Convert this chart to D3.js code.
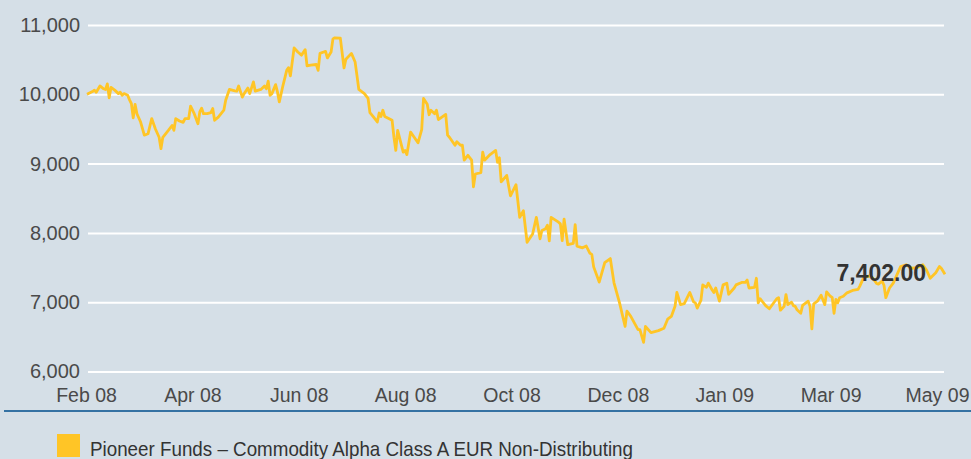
<!DOCTYPE html>
<html>
<head>
<meta charset="utf-8">
<script src="https://cdn.jsdelivr.net/npm/d3@7"></script>
<style>
  body { margin: 0; background: #d5dfe7; }
  svg { display: block; }
</style>
</head>
<body>
<div id="view"></div>
<script>
'use strict';

// x tick labels (evenly spaced along the axis)
const tickLabels = ['Feb 08', 'Apr 08', 'Jun 08', 'Aug 08', 'Oct 08', 'Dec 08', 'Jan 09', 'Mar 09', 'May 09'];
const yTicks = [6000, 7000, 8000, 9000, 10000, 11000];

const seriesName = 'Pioneer Funds \u2013 Commodity Alpha Class A EUR Non-Distributing';
const lastValue = 7402.00;

// day offset from start of the period
const dayOffsets = [
  0, 3, 4, 5, 7, 9, 10, 11, 12, 13, 15, 17, 18, 19, 20, 22, 23, 24, 25, 26,
  27, 29, 31, 33, 35, 37, 39, 40, 41, 44, 46, 47, 48, 50, 52, 53, 55, 56, 58, 60,
  61, 62, 63, 65, 67, 68, 69, 71, 74, 75, 77, 80, 81, 82, 84, 85, 87, 88, 90, 91,
  94, 96, 97, 98, 99, 100, 102, 103, 104, 106, 108, 109, 110, 112, 114, 116, 118, 119, 121, 124,
  125, 126, 128, 129, 130, 132, 133, 134, 137, 139, 140, 143, 145, 146, 147, 150, 152, 153, 155, 157,
  158, 159, 160, 161, 165, 166, 167, 168, 171, 172, 173, 175, 179, 181, 182, 184, 185, 186, 188, 189,
  190, 194, 195, 196, 199, 200, 202, 203, 204, 206, 208, 209, 210, 213, 214, 215, 218, 221, 222, 223,
  224, 227, 229, 232, 234, 236, 238, 241, 243, 245, 246, 248, 249, 250, 251, 255, 256, 257, 258, 260,
  263, 264, 265, 268, 270, 272, 273, 274, 277, 280, 283, 285, 288, 291, 292, 294, 298, 299, 301, 302,
  305, 309, 312, 314, 316, 318, 319, 321, 323, 326, 328, 329, 330, 332, 333, 335, 336, 338, 339, 340,
  342, 344, 346, 347, 350, 351, 354, 356, 357, 358, 361, 362, 363, 364, 367, 369, 373, 374, 375, 377,
  378, 379, 381, 382, 383, 384, 386, 387, 390, 391, 392, 393, 395, 397, 399, 400, 402, 403, 404, 405,
  406, 407, 409, 411, 414, 417, 418, 420, 423, 425, 427, 428, 430, 431, 432, 434, 436, 438, 440, 443,
  446, 449, 452, 454, 456, 459, 461, 462, 464
];

// fund value (EUR, indexed to 10,000)
const navValues = [
  10000, 10040, 10060, 10030, 10120, 10080, 10070, 10150, 9950, 10100, 10060, 10010, 10030, 9985, 10010, 9985, 9920, 9865, 9660, 9855,
  9720, 9600, 9410, 9430, 9650, 9500, 9380, 9215, 9380, 9480, 9550, 9480, 9650, 9615, 9595, 9650, 9650, 9830, 9720, 9575,
  9745, 9800, 9720, 9720, 9735, 9795, 9625, 9670, 9770, 9915, 10070, 10050, 10045, 10120, 9960, 10010, 10090, 10010, 10180, 10045,
  10070, 10120, 10080, 10190, 9985, 10010, 10140, 10035, 9890, 10130, 10345, 10385, 10265, 10670, 10610, 10565, 10645, 10410, 10420, 10430,
  10345, 10590, 10610, 10620, 10525, 10610, 10800, 10815, 10810, 10380, 10505, 10590, 10465, 10270, 10070, 10010, 9940, 9735, 9670, 9600,
  9730, 9680, 9770, 9680, 9625, 9380, 9190, 9480, 9165, 9190, 9130, 9455, 9300, 9490, 9940, 9855, 9705, 9770, 9720, 9770,
  9635, 9710, 9410, 9380, 9265, 9315, 9265, 9265, 9050, 9120, 9050, 8665, 8850, 8870, 9165, 9050, 9130, 9190, 9020, 9085,
  8735, 8830, 8535, 8695, 8225, 8320, 7865, 7985, 8225, 7915, 8035, 8060, 8110, 7885, 8225, 8155, 8130, 7890, 8200, 7830,
  7850, 8120, 7810, 7785, 7810, 7705, 7690, 7510, 7290, 7570, 7630, 7280, 6990, 6650, 6870, 6800, 6605, 6605, 6420, 6650,
  6560, 6590, 6625, 6755, 6795, 6940, 7140, 6965, 6980, 7140, 7005, 6990, 6915, 7025, 7250, 7215, 7275, 7180, 7140, 7205,
  7015, 7250, 7275, 7115, 7205, 7250, 7285, 7285, 7320, 7205, 7215, 7345, 6990, 7050, 6950, 6905, 7050, 7065, 6885, 6940,
  7110, 6965, 7000, 6950, 6940, 6890, 6840, 6955, 7015, 6940, 6615, 6975, 7015, 7100, 6965, 7150, 7085, 7070, 6840, 7040,
  6990, 7065, 7085, 7135, 7170, 7185, 7235, 7355, 7380, 7345, 7270, 7260, 7305, 7245, 7065, 7205, 7275, 7395, 7515, 7540,
  7490, 7500, 7540, 7465, 7345, 7425, 7515, 7490, 7402
];

const size = { w: 971, h: 459 };
const plot = { left: 88, right: 944, top: 25, bottom: 371.5 };

const presentation = {
  fill_background: '#d5dfe7',
  stroke_grid: '#ffffff',
  stroke_line: '#ffc526',
  fill_tickText: '#4a4a4a',
  stroke_baseline: '#3572a3',
  fill_label: '#333333',
  font: '"Liberation Sans", Arial, sans-serif'
};

const series = dayOffsets.map((d, i) => ({ day: d, value: navValues[i] }));

const x = d3.scaleLinear()
  .domain([0, d3.max(dayOffsets)])
  .range([87, 945]);

const y = d3.scaleLinear()
  .domain([6000, 11000])
  .range([plot.bottom, plot.top]);

const xTick = d3.scalePoint()
  .domain(tickLabels)
  .range([86, 937]);

const svg = d3.select('#view').append('svg')
  .attr('width', size.w)
  .attr('height', size.h);

svg.append('rect')
  .attr('width', size.w)
  .attr('height', size.h)
  .attr('fill', presentation.fill_background);

// y axis with gridlines
const gY = svg.append('g')
  .attr('transform', `translate(${plot.left},0)`)
  .call(d3.axisLeft(y)
    .tickValues(yTicks)
    .tickSize(-(plot.right - plot.left))
    .tickPadding(8)
    .tickFormat(d3.format(',')));
gY.select('.domain').remove();
gY.selectAll('.tick line')
  .attr('stroke', presentation.stroke_grid)
  .attr('stroke-width', 2);
gY.selectAll('.tick text')
  .attr('fill', presentation.fill_tickText)
  .attr('font-family', presentation.font)
  .attr('font-size', 20);

// x axis labels
const gX = svg.append('g')
  .attr('transform', `translate(0,${plot.bottom})`)
  .call(d3.axisBottom(xTick).tickSize(0).tickPadding(17));
gX.select('.domain').remove();
gX.selectAll('.tick text')
  .attr('fill', presentation.fill_tickText)
  .attr('font-family', presentation.font)
  .attr('font-size', 19.5);

// baseline under the chart
svg.append('line')
  .attr('x1', 4).attr('x2', size.w)
  .attr('y1', 411).attr('y2', 411)
  .attr('stroke', presentation.stroke_baseline)
  .attr('stroke-width', 2);

// the fund line
const line = d3.line()
  .x(d => x(d.day))
  .y(d => y(d.value));

svg.append('path')
  .datum(series)
  .attr('fill', 'none')
  .attr('stroke', presentation.stroke_line)
  .attr('stroke-width', 2.8)
  .attr('stroke-linejoin', 'round')
  .attr('d', line);

// last value label
const last = series[series.length - 1];
svg.append('text')
  .attr('x', x(last.day) - 19)
  .attr('y', y(last.value) + 7)
  .attr('text-anchor', 'end')
  .attr('font-family', presentation.font)
  .attr('font-weight', 'bold')
  .attr('font-size', 23)
  .attr('fill', presentation.fill_label)
  .text(d3.format(',.2f')(lastValue));

// legend
svg.append('rect')
  .attr('x', 57)
  .attr('y', 434)
  .attr('width', 23)
  .attr('height', 23)
  .attr('fill', presentation.stroke_line);

svg.append('text')
  .attr('x', 90)
  .attr('y', 456)
  .attr('font-family', '"Liberation Sans Narrow", "Liberation Sans", Arial, sans-serif')
  .attr('font-size', 21)
  .attr('fill', presentation.fill_label)
  .attr('textLength', 543)
  .attr('lengthAdjust', 'spacingAndGlyphs')
  .text(seriesName);
</script>
</body>
</html>
